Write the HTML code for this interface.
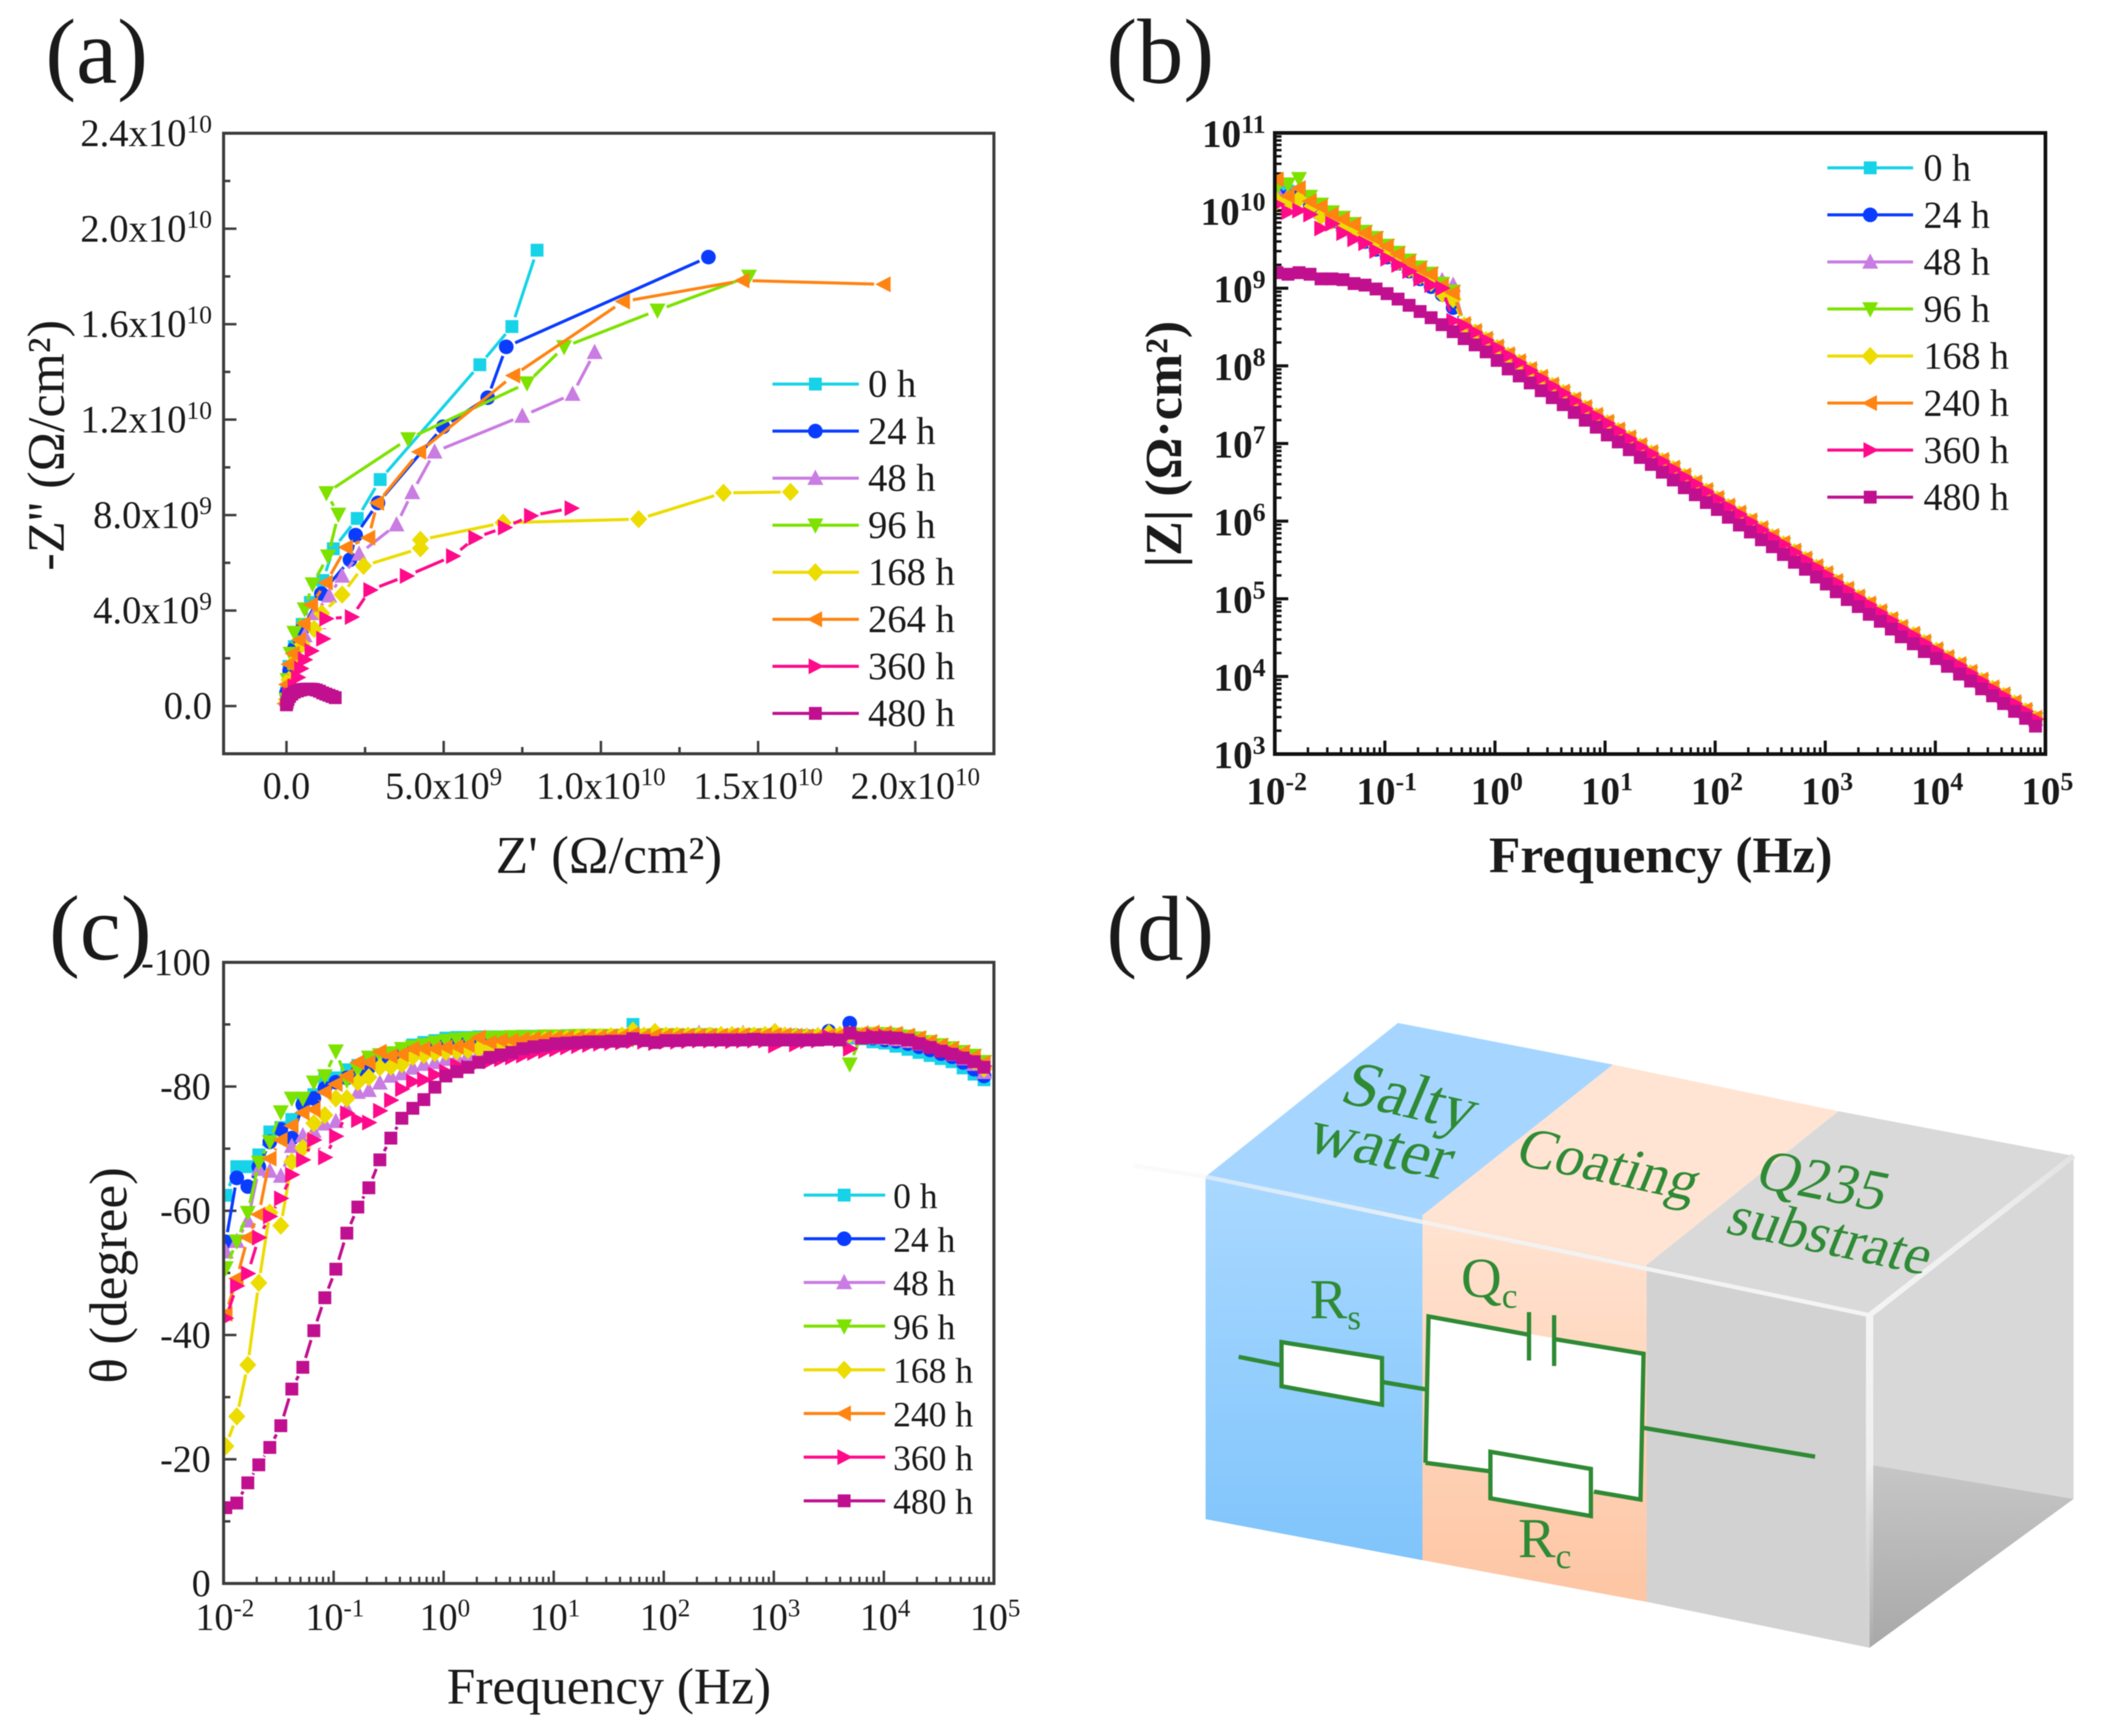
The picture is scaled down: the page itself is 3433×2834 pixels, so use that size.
<!DOCTYPE html>
<html lang="en">
<head>
<meta charset="utf-8">
<title>EIS results of coating during salt water immersion</title>
<style>
html,body{margin:0;padding:0;background:#fff;}
svg{display:block;filter:blur(0.7px);}
text{font-family:"Liberation Serif","DejaVu Serif",serif;fill:#1a1a1a;}
</style>
</head>
<body>
<svg id="figure" xmlns="http://www.w3.org/2000/svg" width="3433" height="2834" viewBox="0 0 3433 2834">
  <defs>
    <clipPath id="clip-b"><rect x="2081" y="217" width="1258" height="1014"/></clipPath>
    <clipPath id="clip-c"><rect x="365" y="1571" width="1257.5" height="1014"/></clipPath>
    <linearGradient id="water-front" x1="0" y1="0" x2="0" y2="1"><stop offset="0" stop-color="#a9d8ff"/><stop offset="1" stop-color="#7fc4fb"/></linearGradient>
    <linearGradient id="coat-front" x1="0" y1="0" x2="0" y2="1"><stop offset="0" stop-color="#ffe3d1"/><stop offset="1" stop-color="#fdc5a3"/></linearGradient>
    <linearGradient id="floor-shade" x1="0" y1="0" x2="0" y2="1"><stop offset="0" stop-color="#c6c6c6"/><stop offset="1" stop-color="#a8a8a8"/></linearGradient>
    <linearGradient id="edge-fade-vertical" gradientUnits="userSpaceOnUse" x1="3052" y1="2147" x2="3052" y2="2690"><stop offset="0" stop-color="#f4f4f4"/><stop offset="0.45" stop-color="#eeeeee"/><stop offset="0.8" stop-color="#d8d8d8" stop-opacity="0.4"/><stop offset="1" stop-color="#d8d8d8" stop-opacity="0"/></linearGradient>
    <linearGradient id="edge-fade-diagonal" gradientUnits="userSpaceOnUse" x1="3052" y1="2147" x2="3385" y2="1887"><stop offset="0" stop-color="#f4f4f4"/><stop offset="0.6" stop-color="#eeeeee"/><stop offset="1" stop-color="#e2e2e2"/></linearGradient>
    <linearGradient id="edge-fade-front" gradientUnits="userSpaceOnUse" x1="1850" y1="1903" x2="3052" y2="2147"><stop offset="0" stop-color="#f6f6f6" stop-opacity="0.5"/><stop offset="0.6" stop-color="#f2f2f2"/><stop offset="1" stop-color="#f4f4f4"/></linearGradient>
  </defs>

  <text x="74" y="135" font-size="151">(a)</text>
  <text x="1806" y="135" font-size="151">(b)</text>
  <text x="80" y="1566" font-size="151">(c)</text>
  <text x="1806" y="1567" font-size="151">(d)</text>

  <g id="panel-a"></g>
  <g id="panel-b"></g>
  <g id="panel-c"></g>

  <text x="994" y="1425" font-size="87" text-anchor="middle">Z' (Ω/cm²)</text>
  <text transform="translate(104,727) rotate(-90)" font-size="86" text-anchor="middle">-Z'' (Ω/cm²)</text>
  <text x="2711" y="1424" font-size="84" font-weight="bold" text-anchor="middle">Frequency (Hz)</text>
  <text transform="translate(1928,725) rotate(-90)" font-size="85" font-weight="bold" text-anchor="middle">|Z| (Ω·cm²)</text>
  <text x="994" y="2781" font-size="84" text-anchor="middle">Frequency (Hz)</text>
  <text transform="translate(206,2082) rotate(-90)" font-size="87" text-anchor="middle">θ (degree)</text>

  <g id="panel-d">
    <polygon points="2282,1670 2633,1738 2322,1984 1968,1921" fill="#a6d6ff"/>
    <polygon points="2633,1738 3001,1814 2688,2065 2322,1984" fill="#ffe4d3"/>
    <polygon points="3001,1814 3385,1887 3052,2147 2688,2065" fill="#d9d9d9"/>
    <polygon points="1968,1921 2322,1984 2322,2547 1968,2480" fill="url(#water-front)"/>
    <polygon points="2322,1984 2688,2065 2688,2615 2322,2547" fill="url(#coat-front)"/>
    <polygon points="2688,2065 3052,2147 3052,2690 2688,2615" fill="#d2d2d2"/>
    <polygon points="3052,2147 3385,1887 3385,2447 3052,2391" fill="#d8d8d8"/>
    <polygon points="3052,2391 3385,2447 3052,2690" fill="url(#floor-shade)"/>
    <polyline points="1850,1903 1968,1921 3052,2147" fill="none" stroke="url(#edge-fade-front)" stroke-width="7"/>
    <line x1="3052" y1="2147" x2="3052" y2="2690" stroke="url(#edge-fade-vertical)" stroke-width="12"/>
    <line x1="3052" y1="2147" x2="3385" y2="1887" stroke="url(#edge-fade-diagonal)" stroke-width="9"/>

    <g fill="none" stroke="#2f8a35" stroke-width="7">
      <polygon points="2332,2149 2683,2210 2678,2448 2327,2388" fill="#ffffff" stroke="none"/>
      <line x1="2022" y1="2215" x2="2092" y2="2229"/>
      <polygon points="2092,2191 2256,2217 2256,2293 2092,2263" fill="#ffffff"/>
      <line x1="2256" y1="2256" x2="2327" y2="2268"/>
      <polyline points="2327,2388 2332,2149 2496,2179"/>
      <line x1="2496" y1="2142" x2="2496" y2="2221"/>
      <line x1="2537" y1="2147" x2="2537" y2="2230"/>
      <polyline points="2537,2186 2683,2210 2678,2448 2602,2435"/>
      <polyline points="2327,2388 2433,2402"/>
      <polygon points="2433,2370 2597,2398 2597,2475 2433,2446" fill="#ffffff"/>
      <line x1="2683" y1="2331" x2="2963" y2="2378"/>
    </g>
    <g fill="#2f8a35">
      <text transform="translate(2184,1798) rotate(13) skewX(-10)" font-size="106" style="fill:#2f8a35">Salty</text>
      <text transform="translate(2128,1878) rotate(12) skewX(-10)" font-size="106" style="fill:#2f8a35">water</text>
      <text transform="translate(2470,1899) rotate(12) skewX(-10)" font-size="94" style="fill:#2f8a35">Coating</text>
      <text transform="translate(2862,1937) rotate(11) skewX(-10)" font-size="95" style="fill:#2f8a35">Q235</text>
      <text transform="translate(2814,2012) rotate(12) skewX(-10)" font-size="94" style="fill:#2f8a35">substrate</text>
      <text x="2138" y="2152" font-size="92" style="fill:#2f8a35">R<tspan font-size="58" dy="18" style="fill:#2f8a35">s</tspan></text>
      <text x="2385" y="2117" font-size="92" style="fill:#2f8a35">Q<tspan font-size="58" dy="18" style="fill:#2f8a35">c</tspan></text>
      <text x="2478" y="2542" font-size="92" style="fill:#2f8a35">R<tspan font-size="58" dy="18" style="fill:#2f8a35">c</tspan></text>
    </g>
  </g>
</svg>

<script>
/* ---------- shared series styling ---------- */
const seriesColors = ['#16d3e8','#0a3cff','#c97ce2','#7de200','#ecdc00','#ff8412','#ff0a8a','#c0108f'];
const seriesShapes = ['square','circle','up','down','diamond','left','right','square'];

/* ---------- panel a : Nyquist (units of 1e9 ohm/cm2) ---------- */
const nyquistLabels = ['0 h','24 h','48 h','96 h','168 h','264 h','360 h','480 h'];
const nyqRe0 = [7.97,7.17,6.15,2.98,2.25,1.49,1.16,0.76,0.5,0.25,0.08,0,0];
const nyqIm0 = [19.1,15.9,14.3,9.49,7.86,6.59,5.26,4.34,3.42,2.49,1.66,0.55,0.18];
const nyqRe24 = [13.42,6.99,6.4,4.98,2.91,2.2,2.02,1.11,0.5,0.25,0.1,0];
const nyqIm24 = [18.81,15.05,12.92,11.7,8.51,7.16,6.13,4.71,3.23,2.4,1.48,0.55];
const nyqRe48 = [9.8,9.1,7.5,4.71,4.0,3.5,2.31,1.77,1.36,0.9,0.58,0.25,0.08,0];
const nyqIm48 = [14.82,13.07,12.15,10.65,8.95,7.6,6.37,5.45,4.62,3.88,2.95,2.03,1.1,0.28];
const nyqRe96 = [14.71,11.8,8.83,7.65,3.87,1.27,1.65,1.32,0.83,0.58,0.25,0.13,0.03,0];
const nyqIm96 = [18.0,16.58,15.05,13.53,11.19,8.93,8.03,6.28,5.11,4.06,3.08,2.2,1.1,0.28];
const nyqRe168 = [16.03,13.9,11.2,6.89,4.26,4.26,2.45,1.77,1.12,0.88,0.5,0.25,0.08,0];
const nyqIm168 = [8.97,8.93,7.83,7.68,6.96,6.61,5.87,4.67,3.88,3.23,2.58,1.85,1.1,0.28];
const nyqRe264 = [19.0,14.51,10.71,7.22,4.23,2.89,2.61,1.9,1.26,0.79,0.55,0.41,0.21,0.08,0,-0.05];
const nyqIm264 = [17.67,17.83,16.95,13.85,10.65,8.51,7.05,6.65,5.17,4.25,3.45,2.77,2.2,1.75,0.9,0.1];
const nyqRe360 = [9.06,7.77,6.94,6.0,5.29,3.82,2.66,2.07,1.26,1.16,0.79,0.58,0.46,0.36,0.25,0.08];
const nyqIm360 = [8.29,7.97,7.48,7.05,6.28,5.45,4.86,3.73,3.66,2.82,2.31,1.94,1.57,1.2,0.83,0.46];
const nyqRe480 = [0,0.02,0.05,0.1,0.17,0.25,0.35,0.45,0.55,0.65,0.75,0.85,0.95,1.05,1.15,1.25,1.35,1.45,1.55];
const nyqIm480 = [0.05,0.15,0.28,0.4,0.5,0.58,0.63,0.67,0.7,0.71,0.71,0.7,0.67,0.62,0.55,0.5,0.45,0.4,0.35];
const nyqXTicks = [0,5,10,15,20];
const nyqXBases = ['0.0','5.0x10','1.0x10','1.5x10','2.0x10'];
const nyqXExps = ['','9','10','10','10'];
const nyqYTicks = [0,4,8,12,16,20,24];
const nyqYBases = ['0.0','4.0x10','8.0x10','1.2x10','1.6x10','2.0x10','2.4x10'];
const nyqYExps = ['','9','9','10','10','10','10'];

/* ---------- log-frequency grid shared by panels b and c ---------- */
const logFreq = [-1.98,-1.88,-1.78,-1.68,-1.58,-1.48,-1.38,-1.28,-1.18,-1.08,-0.98,-0.88,-0.78,-0.68,-0.58,-0.48,-0.38,-0.28,-0.18,-0.08,0.02,0.12,0.22,0.32,0.42,0.52,0.62,0.72,0.82,0.92,1.02,1.12,1.22,1.32,1.42,1.52,1.62,1.72,1.82,1.92,2.02,2.12,2.22,2.32,2.42,2.52,2.62,2.72,2.82,2.92,3.01,3.10,3.20,3.30,3.40,3.50,3.60,3.69,3.80,3.90,4.01,4.11,4.22,4.32,4.42,4.52,4.62,4.72,4.82,4.91];

/* ---------- panel b : log10 |Z| ---------- */
const bodeLabels = ['0 h','24 h','48 h','96 h','168 h','240 h','360 h','480 h'];
const magLow0 = [10.28,10.25,10.22,10.06,9.97,9.88,9.81,9.72,9.64,9.55,9.45,9.36,9.27,9.18,9.08,8.98,8.90];
const magLow24 = [10.2,10.18,10.2,10.05,9.95,9.86,9.78,9.70,9.60,9.50,9.40,9.32,9.22,9.12,9.02,8.92,8.75];
const magLow48 = [10.24,10.2,10.18,10.08,9.98,9.90,9.82,9.74,9.66,9.56,9.46,9.36,9.28,9.2,9.12,9.1,9.04];
const magLow96 = [10.3,10.34,10.41,10.18,10.08,9.98,9.91,9.83,9.73,9.65,9.55,9.46,9.36,9.27,9.19,9.06,8.96];
const magLow168 = [10.12,10.1,10.15,10.03,9.93,9.87,9.8,9.72,9.63,9.54,9.44,9.34,9.25,9.16,9.07,8.93,8.86];
const magLow240 = [10.4,10.19,10.29,10.12,10.05,9.95,9.89,9.82,9.71,9.64,9.54,9.44,9.34,9.25,9.18,9.03,8.94];
const magLow360 = [10.08,9.98,10.0,9.95,9.77,9.83,9.71,9.63,9.58,9.48,9.38,9.3,9.22,9.12,9.04,9.0,8.58];
const magTail = [8.52,8.43,8.33,8.23,8.13,8.04,7.94,7.84,7.74,7.65,7.55,7.45,7.35,7.26,7.16,7.06,6.96,6.87,6.77,6.67,6.57,6.48,6.38,6.28,6.18,6.09,5.99,5.89,5.79,5.70,5.60,5.50,5.40,5.31,5.21,5.11,5.01,4.92,4.82,4.72,4.62,4.53,4.43,4.33,4.23,4.14,4.04,3.94,3.84,3.75,3.65,3.55,3.45];
const magTail240 = [8.54,8.45,8.35,8.25,8.15,8.06,7.96,7.86,7.76,7.67,7.57,7.47,7.37,7.28,7.18,7.08,6.98,6.89,6.79,6.69,6.59,6.50,6.40,6.30,6.20,6.11,6.01,5.91,5.81,5.72,5.62,5.52,5.42,5.33,5.23,5.13,5.03,4.94,4.84,4.74,4.64,4.55,4.45,4.35,4.25,4.16,4.06,3.96,3.86,3.77,3.67,3.57,3.47];
const mag480 = [9.20,9.18,9.20,9.18,9.12,9.12,9.11,9.06,9.04,8.99,8.93,8.86,8.78,8.70,8.62,8.53,8.44,8.35,8.27,8.18,8.07,7.96,7.87,7.78,7.68,7.59,7.50,7.40,7.30,7.21,7.11,7.02,6.92,6.82,6.73,6.63,6.53,6.43,6.34,6.24,6.15,6.05,5.95,5.86,5.76,5.67,5.57,5.47,5.38,5.28,5.19,5.09,4.99,4.90,4.80,4.71,4.61,4.51,4.42,4.32,4.23,4.13,4.03,3.94,3.84,3.75,3.65,3.55,3.46,3.36];
const magDecades = [3,4,5,6,7,8,9,10,11];
const freqDecades = [-2,-1,0,1,2,3,4,5];

/* ---------- panel c : phase magnitude in degrees (axis labelled negative) ---------- */
const phaseLow0 = [62.5,67.1,67.1,69,72.7,73.4,74.7,77.4,78.7,81.4,81.4,82.7,83.4,84.1,84.7,85.4,86.1,86.7,87.1,87.4,87.8,87.9,87.9,88,88,88,88,88.1,88.1,88.1,88.1,88.2];
const phaseHigh0 = [88.2,88.2,88.2,88.2,88.2,90.0,88.2,88.2,88.2,88.2,88.1,88.1,88.1,88.1,88.1,88.1,88.1,88.1,88.1,88,88,88,87.9,87.9,87.8,87.8,87.7,87.2,87,86.5,86,85.5,85,84.5,84,83,82,81.1];
const phaseLow24 = [55,65.3,63.9,67.1,71.1,73.1,71.7,77.1,78.1,79.7,80.7,81.4,82.4,83.1,83.8,84.4,85.1,85.7,86.1,86.7,87.1,87.3,87.5,87.6,87.7,87.8,87.8,87.9,87.9,88,88,88];
const phaseHigh24 = [88,88.1,88.1,88.1,88.2,88.2,88.2,88.2,88.2,88.2,88.2,88.3,88.3,88.2,88.2,88.2,88.2,88.2,88.2,88.2,88.2,88.1,88.1,88.9,88.2,90.2,88.2,87.8,87.5,87.3,86.9,86.4,85.9,85.3,84.8,83.9,82.8,81.7];
const phaseLow48 = [53.4,55.1,58.4,66.7,66.4,65.6,70.4,72.1,72.8,74,74.4,76.4,79.1,79.4,80.6,81.7,82.1,83,83.6,83.9,84.4,84.7,85.1,85.4,85.8,86,86.3,86.6,86.8,87,87.2,87.4];
const phaseHigh48 = [87.6,87.7,87.8,87.9,88,88.5,88.1,88.2,88.2,88.2,88.2,88.6,88.2,88.2,88.2,88.6,88.2,88.3,88.3,88.2,88.2,88.2,88.3,88.2,88.3,88.2,88,87.9,87.8,87.6,87.3,86.9,86.4,85.8,85.2,84.5,83.6,82.3];
const phaseLow96 = [50.8,55.1,59.7,67.8,71.1,75.9,78.1,78.1,80.7,81.7,85.7,81,82.7,84.7,85.1,85.4,86.1,86.4,86.7,87.1,87.4,87.6,87.7,87.8,87.9,87.9,88,88,88,88.1,88.1,88.1];
const phaseHigh96 = [88.2,88.2,88.2,88.2,88.2,87.6,88.2,88.3,88.3,88.3,88.2,88.3,88.3,88.2,88.2,88.3,88.3,88.3,88.2,88.2,88.1,88,88.1,88,88.2,83.6,88.4,88.5,88.5,88.4,88.1,87.8,87.2,86.7,86.2,85.6,85,84];
const phaseLow168 = [22.1,26.9,35.2,48.4,59.7,57.6,67.9,70.1,74.1,75.4,78.1,78.1,80.7,81.5,83.1,83.2,83.6,84.8,85.1,85.4,85.6,85.7,85.9,86.1,86.1,86.4,86.7,87,87.3,87.5,87.6,87.7];
const phaseHigh168 = [87.9,88,88,88.1,88.2,89,88.2,88.8,88.2,88.2,88.2,88.2,88.2,88.3,88.3,88.3,88.2,88.3,88.8,88.2,88.1,88,88.1,88.6,88.3,88.4,88.2,88.2,88.1,88,87.7,87.3,86.8,86.2,85.7,85,84.1,82.9];
const phaseLow240 = [43.4,49.1,55.7,59.4,68.4,71.4,73.7,75.8,76.3,79.1,80.4,81.7,83.9,83.9,85.6,84.9,85.2,86.1,86.1,86.1,86.3,86.4,86.7,87.9,87.1,87.4,87.4,87.6,87.7,87.8,87.9,87.9];
const phaseHigh240 = [87.9,88,88,88.1,88.1,88.4,88.1,88.2,88.2,88.2,88.2,88.2,88.2,88.2,88.3,88.3,88.2,88.3,88.3,88.3,88.2,88.1,88,88.2,88.3,88.5,88.6,88.7,88.6,88.5,88.2,87.8,87.2,86.6,86.1,85.5,84.8,83.8];
const phaseLow360 = [42.7,47.9,49.9,55.7,59.1,62,65.8,68.2,71.4,68.6,72,75.7,74.6,74.2,76.1,77.8,79.6,80.8,81.1,81.9,82.4,83.4,83.1,83.8,84.1,84.4,84.7,85,85.4,85.7,86,86.3];
const phaseHigh360 = [86.5,86.7,86.9,87,87.1,87.3,87.2,87,87.2,87.2,87.3,87.4,87.4,87.4,87.3,87.4,87.4,87.4,86.6,87.4,86.8,87.3,87.4,88,87.5,86.1,87.9,88.2,88.1,87.9,87.6,87.2,86.6,86,85.5,84.9,84.2,83.3];
const phaseLow480 = [12.2,12.95,16.2,19.1,21.9,25.4,31.3,34.8,40.7,46,50.6,56.4,60.6,63.7,68.2,71.7,74.9,76.5,77.9,79.9,81.7,82.4,83.1,83.9,84.7,85.1,85.5,86.1,86.4,86.6,86.9,87];
const phaseHigh480 = [87.1,87.2,87.2,87.3,87.3,87.7,87.4,87.1,87.4,87.4,87.5,87.5,87.5,87.5,87.5,87.5,87.6,87.5,87.5,87.5,87.5,87.5,87.5,87.6,87.5,88.6,87.8,87.9,87.9,87.8,87.5,86.9,86.3,85.7,85.2,84.6,84,83.1];
const phaseTicks = [0,20,40,60,80,100];
const phaseTickLabels = ['0','-20','-40','-60','-80','-100'];

/* ---------- axis functions ---------- */
const A = {l:365,r:1622.5,t:217.5,b:1230.5};
const B = {l:2081,r:3339,t:217,b:1231};
const C = {l:365,r:1622.5,t:1571,b:2585};
function xA(v){return A.l+(v+2)/(22.5+2)*(A.r-A.l);}
function yA(v){return A.b-(v+2)/(24+2)*(A.b-A.t);}
function xB(v){return B.l+(v+2)/7*(B.r-B.l);}
function yB(v){return B.b-(v-3)/8*(B.b-B.t);}
function xC(v){return C.l+(v+2)/7*(C.r-C.l);}
function yC(v){return C.b-v/100*(C.b-C.t);}

const SVGNS = 'http://www.w3.org/2000/svg';
const GAP = 16;

function addMarker(parent, shape, x, y, color){
  let el;
  if(shape==='circle'){
    el = document.createElementNS(SVGNS,'circle');
    el.setAttribute('cx',x);el.setAttribute('cy',y);el.setAttribute('r',12);
  }else if(shape==='square'){
    el = document.createElementNS(SVGNS,'rect');
    el.setAttribute('x',x-10.5);el.setAttribute('y',y-10.5);el.setAttribute('width',21);el.setAttribute('height',21);
  }else{
    let p;
    if(shape==='up') p=[[0,-14],[13,11],[-13,11]];
    if(shape==='down') p=[[0,14],[13,-11],[-13,-11]];
    if(shape==='left') p=[[-14,0],[11,-13],[11,13]];
    if(shape==='right') p=[[14,0],[-11,-13],[-11,13]];
    if(shape==='diamond') p=[[0,-15],[14,0],[0,15],[-14,0]];
    el = document.createElementNS(SVGNS,'polygon');
    el.setAttribute('points',p.map(q=>(x+q[0])+','+(y+q[1])).join(' '));
  }
  el.setAttribute('fill',color);
  
  
  parent.appendChild(el);
}

function drawSeries(parent, pts, color, shape, seriesName){
  const g = document.createElementNS(SVGNS,'g');
  
  
  let d = '';
  for(let i=0;i+1<pts.length;i++){
    const dx=pts[i+1][0]-pts[i][0], dy=pts[i+1][1]-pts[i][1], len=Math.hypot(dx,dy);
    if(len<=2*GAP) continue;
    const ux=dx/len, uy=dy/len;
    d+='M'+(pts[i][0]+ux*GAP).toFixed(1)+' '+(pts[i][1]+uy*GAP).toFixed(1)+'L'+(pts[i+1][0]-ux*GAP).toFixed(1)+' '+(pts[i+1][1]-uy*GAP).toFixed(1);
  }
  const path = document.createElementNS(SVGNS,'path');
  path.setAttribute('d',d);
  path.setAttribute('fill','none');
  path.setAttribute('stroke',color);
  path.setAttribute('stroke-width',5);
  
  
  g.appendChild(path);
  pts.forEach(p=>addMarker(g,shape,p[0],p[1],color));
  parent.appendChild(g);
}

function addTick(parent,x1,y1,x2,y2,color,width){
  const t = document.createElementNS(SVGNS,'line');
  t.setAttribute('x1',x1);t.setAttribute('y1',y1);t.setAttribute('x2',x2);t.setAttribute('y2',y2);
  t.setAttribute('stroke',color);t.setAttribute('stroke-width',width);
  
  
  parent.appendChild(t);
}

function addLabel(parent,x,y,base,exp,anchor,size,weight){
  const t = document.createElementNS(SVGNS,'text');
  t.setAttribute('x',x);t.setAttribute('y',y);
  t.setAttribute('text-anchor',anchor);
  t.setAttribute('font-size',size);
  if(weight) t.setAttribute('font-weight',weight);
  
  
  t.appendChild(document.createTextNode(base));
  if(exp!==''){
    const s = document.createElementNS(SVGNS,'tspan');
    s.setAttribute('dy',-size*0.36);
    s.setAttribute('font-size',size*0.66);
    s.textContent = exp;
    t.appendChild(s);
  }
  parent.appendChild(t);
}

function addFrame(parent,box,color,width){
  const r = document.createElementNS(SVGNS,'rect');
  r.setAttribute('x',box.l);r.setAttribute('y',box.t);
  r.setAttribute('width',box.r-box.l);r.setAttribute('height',box.b-box.t);
  r.setAttribute('fill','none');r.setAttribute('stroke',color);r.setAttribute('stroke-width',width);
  
  
  parent.appendChild(r);
}

function addLegend(parent,labels,x1,xm,x2,xt,y0,dy,size){
  const lg = document.createElementNS(SVGNS,'g');
  
  
  labels.forEach((lab,i)=>{
    const y = y0+i*dy;
    const entry = document.createElementNS(SVGNS,'g');
    
    
    const ln = document.createElementNS(SVGNS,'line');
    ln.setAttribute('x1',x1);ln.setAttribute('y1',y);ln.setAttribute('x2',x2);ln.setAttribute('y2',y);
    ln.setAttribute('stroke',seriesColors[i]);ln.setAttribute('stroke-width',5);
    
    
    entry.appendChild(ln);
    addMarker(entry,seriesShapes[i],xm,y,seriesColors[i]);
    const t = document.createElementNS(SVGNS,'text');
    t.setAttribute('x',xt);t.setAttribute('y',y+21);t.setAttribute('font-size',size);
    
    
    t.textContent = lab;
    entry.appendChild(t);
    lg.appendChild(entry);
  });
  parent.appendChild(lg);
}

function zipPoints(xs,ys,fx,fy){
  const out=[];
  const n=Math.min(xs.length,ys.length);
  for(let i=0;i<n;i++) out.push([fx(xs[i]),fy(ys[i])]);
  return out;
}

/* ---------- panel a ---------- */
(function(){
  const p = document.getElementById('panel-a');
  const col='#3d3d3d';
  nyqYTicks.forEach((v,i)=>{
    addTick(p,A.l,yA(v),A.l+21,yA(v),col,4);
    addLabel(p,346,yA(v)+21,nyqYBases[i],nyqYExps[i],'end',63);
    if(v+2<=24) addTick(p,A.l,yA(v+2),A.l+11,yA(v+2),col,4);
  });
  nyqXTicks.forEach((v,i)=>{
    addTick(p,xA(v),A.b,xA(v),A.b-21,col,4);
    addLabel(p,xA(v),1304,nyqXBases[i],nyqXExps[i],'middle',62);
    addTick(p,xA(v+2.5),A.b,xA(v+2.5),A.b-11,col,4);
  });
  const re=[nyqRe0,nyqRe24,nyqRe48,nyqRe96,nyqRe168,nyqRe264,nyqRe360,nyqRe480];
  const im=[nyqIm0,nyqIm24,nyqIm48,nyqIm96,nyqIm168,nyqIm264,nyqIm360,nyqIm480];
  re.forEach((r,i)=>drawSeries(p,zipPoints(r,im[i],xA,yA),seriesColors[i],seriesShapes[i],'nyquist-series-'+nyquistLabels[i].replace(' ','')));
  addFrame(p,A,col,5);
  addLegend(p,nyquistLabels,1261,1331,1402,1417,627,76.8,63);
})();

/* ---------- panel b ---------- */
(function(){
  const p = document.getElementById('panel-b');
  const col='#111111';
  magDecades.forEach(v=>{
    addTick(p,B.l,yB(v),B.l+22,yB(v),col,5);
    addLabel(p,2066,yB(v)+23,'10',String(v),'end',64,'bold');
    if(v<11) for(let k=2;k<10;k++) addTick(p,B.l,yB(v+Math.log10(k)),B.l+11,yB(v+Math.log10(k)),col,4);
  });
  freqDecades.forEach(v=>{
    addTick(p,xB(v),B.b,xB(v),B.b-22,col,5);
    addLabel(p,xB(v)+3,1313,'10',String(v),'middle',64,'bold');
    if(v<5) for(let k=2;k<10;k++) addTick(p,xB(v+Math.log10(k)),B.b,xB(v+Math.log10(k)),B.b-11,col,4);
  });
  const mags=[magLow0.concat(magTail),magLow24.concat(magTail),magLow48.concat(magTail),magLow96.concat(magTail),magLow168.concat(magTail),magLow240.concat(magTail240),magLow360.concat(magTail),mag480];
  const plot = document.createElementNS(SVGNS,'g');
  plot.setAttribute('clip-path','url(#clip-b)');
  
  
  p.appendChild(plot);
  mags.forEach((m,i)=>drawSeries(plot,zipPoints(logFreq,m,xB,yB),seriesColors[i],seriesShapes[i],'magnitude-series-'+bodeLabels[i].replace(' ','')));
  addFrame(p,B,col,6);
  addLegend(p,bodeLabels,2983,3053,3123,3140,274,76.8,62);
})();

/* ---------- panel c ---------- */
(function(){
  const p = document.getElementById('panel-c');
  const col='#3d3d3d';
  phaseTicks.forEach((v,i)=>{
    addTick(p,C.l,yC(v),C.l+21,yC(v),col,4);
    addLabel(p,344,yC(v)+21,phaseTickLabels[i],'','end',62);
    if(v<100) addTick(p,C.l,yC(v+10),C.l+11,yC(v+10),col,4);
  });
  freqDecades.forEach(v=>{
    addTick(p,xC(v),C.b,xC(v),C.b-21,col,4);
    addLabel(p,xC(v)+2,2661,'10',String(v),'middle',62);
    if(v<5) for(let k=2;k<10;k++) addTick(p,xC(v+Math.log10(k)),C.b,xC(v+Math.log10(k)),C.b-11,col,3.5);
  });
  const phases=[phaseLow0.concat(phaseHigh0),phaseLow24.concat(phaseHigh24),phaseLow48.concat(phaseHigh48),phaseLow96.concat(phaseHigh96),phaseLow168.concat(phaseHigh168),phaseLow240.concat(phaseHigh240),phaseLow360.concat(phaseHigh360),phaseLow480.concat(phaseHigh480)];
  const plot = document.createElementNS(SVGNS,'g');
  plot.setAttribute('clip-path','url(#clip-c)');
  
  
  p.appendChild(plot);
  phases.forEach((m,i)=>drawSeries(plot,zipPoints(logFreq,m,xC,yC),seriesColors[i],seriesShapes[i],'phase-series-'+bodeLabels[i].replace(' ','')));
  addFrame(p,C,col,5);
  addLegend(p,bodeLabels,1312,1378,1445,1458,1951,71.3,58);
})();
</script>
</body>
</html>
